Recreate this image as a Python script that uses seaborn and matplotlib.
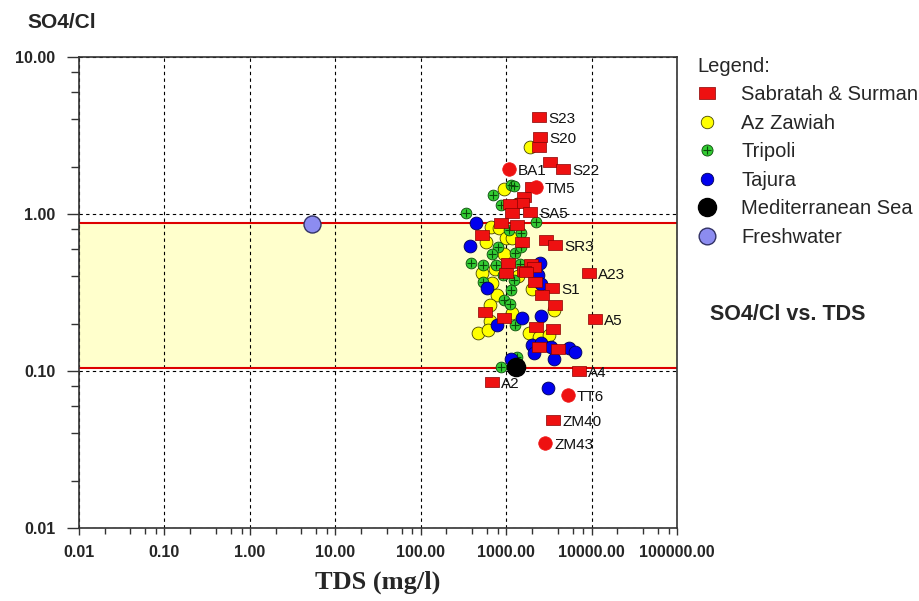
# so4_cl_vs_tds.py

# LIBRARIES
import matplotlib
matplotlib.use('Agg')
import matplotlib.pyplot as plt
import matplotlib.ticker as mticker
from matplotlib.lines import Line2D
from matplotlib.path import Path
from matplotlib.legend_handler import HandlerTuple
import seaborn as sns


# DATA (TDS in mg/l, SO4/Cl ratio)
sabratah_tds = [2430, 2500, 2430, 3270, 4630, 2010, 1620, 1540, 1110, 1180,
                1910, 875, 1350, 525, 1540, 2930, 3730, 1060, 1960, 2120,
                1620, 1710, 1000, 9330, 2180, 3440, 2640, 3730, 560, 950,
                10970, 2240, 3540, 2430, 4050, 7130, 690, 3540]
sabratah_ratio = [4.15, 3.09, 2.67, 2.14, 1.94, 1.49, 1.28, 1.17, 1.16, 1.01,
                  1.03, 0.877, 0.851, 0.735, 0.663, 0.683, 0.635, 0.488, 0.481, 0.460,
                  0.434, 0.427, 0.421, 0.421, 0.369, 0.338, 0.305, 0.263, 0.238, 0.218,
                  0.214, 0.191, 0.185, 0.142, 0.138, 0.100, 0.085, 0.049]
sabratah_label = ['S23', 'S20', '', '', 'S22', '', '', '', '', '',
                  'SA5', '', '', '', '', '', 'SR3', '', '', '',
                  '', '', '', 'A23', '', 'S1', '', '', '', '',
                  'A5', '', '', '', '', 'A4', 'A2', 'ZM40']

# red round symbols (labelled wells)
well_tds = [1080, 2240, 5300, 2860]
well_ratio = [1.94, 1.49, 0.070, 0.035]
well_label = ['BA1', 'TM5', 'TT6', 'ZM43']

zawiah_tds = [1910, 950, 668, 828, 1000, 1175, 583, 948, 743, 525, 1380, 686,
              2010, 785, 650, 3640, 1175, 650, 471, 617, 1860, 2430, 3180]
zawiah_ratio = [2.67, 1.44, 0.826, 0.815, 0.704, 0.704, 0.663, 0.556, 0.446, 0.421, 0.403, 0.364,
                0.333, 0.305, 0.263, 0.245, 0.234, 0.208, 0.175, 0.182, 0.175, 0.165, 0.169]

tripoli_tds = [1143, 1240, 705, 1345, 875, 341, 2240, 1084, 1496, 807, 686, 1274, 1496,
               390, 538, 764, 1458, 923, 1240, 538, 1143, 948, 1114, 1274, 1345, 875]
tripoli_ratio = [1.53, 1.51, 1.32, 1.17, 1.14, 1.01, 0.890, 0.791, 0.757, 0.616, 0.556, 0.564, 0.616,
                 0.488, 0.473, 0.473, 0.481, 0.409, 0.380, 0.369, 0.328, 0.283, 0.267, 0.196, 0.123, 0.106]

tajura_tds = [447, 380, 2495, 2365, 2565, 600, 785, 1538, 2565, 2013, 2565, 3357,
              5445, 6397, 2123, 3639, 1143, 3097]
tajura_ratio = [0.877, 0.626, 0.488, 0.409, 0.358, 0.338, 0.196, 0.218, 0.224, 0.146, 0.151, 0.142,
                0.140, 0.132, 0.130, 0.119, 0.119, 0.078]

sea_tds = [1310]
sea_ratio = [0.106]

fresh_tds = [5.3]
fresh_ratio = [0.86]

# shaded range of SO4/Cl
band_low = 0.105
band_high = 0.875

x_ticks = [0.01, 0.1, 1, 10, 100, 1000, 10000, 100000]
x_tick_labels = ['0.01', '0.10', '1.00', '10.00', '100.00', '1000.00', '10000.00', '100000.00']
y_ticks = [0.01, 0.1, 1, 10]
y_tick_labels = ['0.01', '0.10', '1.00', '10.00']

legend_labels = ['Sabratah & Surman', 'Az Zawiah', 'Tripoli', 'Tajura',
                 'Mediterranean Sea', 'Freshwater']


# STYLE
sns.set_style('white')
plt.rcParams['font.family'] = ['Liberation Sans', 'DejaVu Sans']

RED = '#ee1111'
YELLOW = '#ffff00'
GREEN = '#33cc33'
BLUE = '#0000ee'
FRESH = '#8c8cf0'

rect = Path([(-1, -0.75), (1, -0.75), (1, 0.75), (-1, 0.75), (-1, -0.75)],
            [Path.MOVETO, Path.LINETO, Path.LINETO, Path.LINETO, Path.CLOSEPOLY])


# FIGURE
fig = plt.figure(figsize=(9.2, 6.01), dpi=100)
ax = fig.add_axes([79 / 920, 73 / 601, 598 / 920, 471 / 601])
ax.set_xscale('log')
ax.set_yscale('log')

ax.axhspan(band_low, band_high, color='#ffffcc', zorder=0.2, lw=0)
ax.axhline(band_high, color='#dd0000', lw=1.5, zorder=1.6)
ax.axhline(band_low, color='#dd0000', lw=1.5, zorder=1.6)

# SCATTER GROUPS
sns.scatterplot(x=zawiah_tds, y=zawiah_ratio, marker='o', s=85, color=YELLOW,
                edgecolor='#444400', linewidth=0.6, ax=ax, zorder=3)
sns.scatterplot(x=tripoli_tds, y=tripoli_ratio, marker='o', s=60, color=GREEN,
                edgecolor='#0a4a0a', linewidth=0.6, ax=ax, zorder=3)
sns.scatterplot(x=tripoli_tds, y=tripoli_ratio, marker='+', s=40, color='#0a4a0a',
                linewidth=0.8, ax=ax, zorder=3.1)
sns.scatterplot(x=tajura_tds, y=tajura_ratio, marker='o', s=85, color=BLUE,
                edgecolor='#000055', linewidth=0.6, ax=ax, zorder=3.2)
sns.scatterplot(x=sabratah_tds, y=sabratah_ratio, marker=rect, s=100, color=RED,
                edgecolor='#880000', linewidth=0.5, ax=ax, zorder=3.3)
sns.scatterplot(x=well_tds, y=well_ratio, marker='o', s=95, color=RED,
                edgecolor=RED, linewidth=0.5, ax=ax, zorder=3.3)
sns.scatterplot(x=sea_tds, y=sea_ratio, marker='o', s=170, color='black',
                edgecolor='black', ax=ax, zorder=3.5)
sns.scatterplot(x=fresh_tds, y=fresh_ratio, marker='o', s=150, color=FRESH,
                edgecolor='#333366', linewidth=1, ax=ax, zorder=3.5)

# POINT LABELS
for x, y, lab in zip(sabratah_tds + well_tds, sabratah_ratio + well_ratio,
                     sabratah_label + well_label):
    if lab:
        ax.annotate(lab, (x, y), xytext=(9, -2), textcoords='offset pixels',
                    fontsize=11, va='center', ha='left', color='#111111', zorder=4)

# AXES
ax.set_xlim(0.01, 100000)
ax.set_ylim(0.01, 10)
ax.set_xticks(x_ticks)
ax.set_xticklabels(x_tick_labels)
ax.set_yticks(y_ticks)
ax.set_yticklabels(y_tick_labels)
ax.xaxis.set_minor_locator(mticker.LogLocator(base=10, subs=(2, 4, 6, 8), numticks=20))
ax.yaxis.set_minor_locator(mticker.LogLocator(base=10, subs=(2, 4, 6, 8), numticks=20))
ax.xaxis.set_minor_formatter(mticker.NullFormatter())
ax.yaxis.set_minor_formatter(mticker.NullFormatter())

ax.tick_params(axis='both', which='both', direction='out', color='#333333', width=1,
               bottom=True, left=True, top=False, right=False)
ax.tick_params(axis='x', which='major', length=5, pad=7, labelsize=11.5)
ax.tick_params(axis='x', which='minor', length=4)
ax.tick_params(axis='y', which='major', length=9, pad=8, labelsize=11.5)
ax.tick_params(axis='y', which='minor', length=6)
for t in ax.get_xticklabels() + ax.get_yticklabels():
    t.set_fontweight('bold')

ax.grid(True, which='major', color='black', ls=(0, (3, 3)), lw=0.8)
ax.grid(False, which='minor')
for sp in ax.spines.values():
    sp.set_color('#333333')
    sp.set_linewidth(1.2)

ax.set_xlabel('')
ax.set_ylabel('')

# TEXTS
fig.text(27 / 920, 1 - 22 / 601, 'SO4/Cl', fontsize=15, fontweight='bold', va='center')
fig.text(378 / 920, 1 - 582 / 601, 'TDS (mg/l)', fontsize=19, fontweight='bold',
         family=['Liberation Serif', 'DejaVu Serif'], ha='center', va='center')
fig.text(710 / 920, 1 - 314 / 601, 'SO4/Cl vs. TDS', fontsize=15.5, fontweight='bold',
         va='center')

# LEGEND
handles = [
    Line2D([], [], ls='', marker=rect, ms=11, mfc=RED, mec='#880000', mew=0.5),
    Line2D([], [], ls='', marker='o', ms=9, mfc=YELLOW, mec='#444400', mew=0.6),
    (Line2D([], [], ls='', marker='o', ms=8, mfc=GREEN, mec='#0a4a0a', mew=0.6),
     Line2D([], [], ls='', marker='+', ms=6, mec='#0a4a0a', mew=0.8)),
    Line2D([], [], ls='', marker='o', ms=9, mfc=BLUE, mec='#000055', mew=0.6),
    Line2D([], [], ls='', marker='o', ms=13, mfc='black', mec='black'),
    Line2D([], [], ls='', marker='o', ms=12, mfc=FRESH, mec='#333366', mew=1),
]
fig.legend(handles, legend_labels, loc='upper left', bbox_to_anchor=(697 / 920, 1 - 57 / 601),
           title='Legend:', frameon=False, fontsize=14.5, title_fontsize=14.5,
           handlelength=1.0, handletextpad=1.2, labelspacing=0.47, alignment='left',
           borderpad=0, borderaxespad=0,
           handler_map={tuple: HandlerTuple(ndivide=1)})

plt.savefig('out.png', dpi=100)
